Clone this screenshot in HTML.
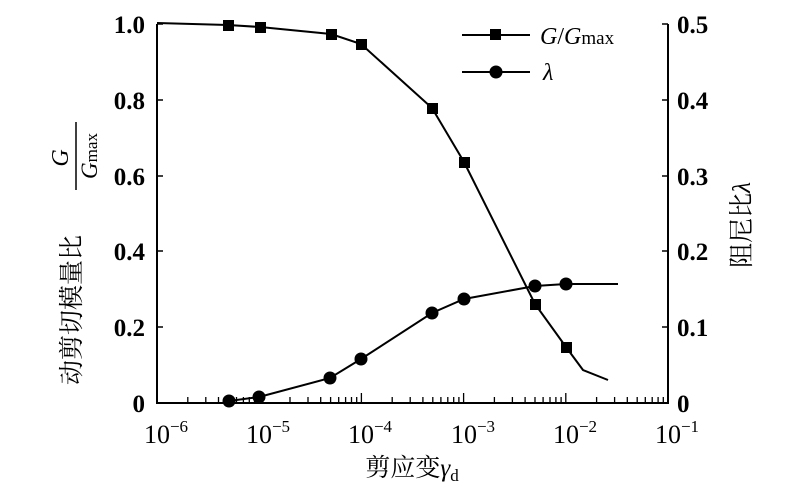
<!DOCTYPE html>
<html><head><meta charset="utf-8"><style>
body{margin:0;background:#fff;}
svg text{font-family:"Liberation Serif","Noto Serif CJK SC",serif;fill:#000;}
</style></head><body>
<svg width="807" height="491" viewBox="0 0 807 491" xmlns="http://www.w3.org/2000/svg">
<defs>
<path id="dec" d="M30.8,403v-6M48.8,403v-6M61.5,403v-6M71.4,403v-6M79.5,403v-6M86.4,403v-6M92.3,403v-6M97.5,403v-6M102.2,403v-10" stroke="#000" stroke-width="1.3" fill="none"/>
</defs>
<g stroke="#000" stroke-width="2" fill="none">
<path d="M157,24 V403 H668 V24"/>
</g>
<g stroke="#000" stroke-width="1.5">
<line x1="157" y1="24" x2="163" y2="24"/><line x1="157" y1="100" x2="163" y2="100"/><line x1="157" y1="176" x2="163" y2="176"/><line x1="157" y1="251" x2="163" y2="251"/><line x1="157" y1="327" x2="163" y2="327"/>
<line x1="662" y1="24" x2="668" y2="24"/><line x1="662" y1="100" x2="668" y2="100"/><line x1="662" y1="176" x2="668" y2="176"/><line x1="662" y1="251" x2="668" y2="251"/><line x1="662" y1="327" x2="668" y2="327"/>
</g>
<use href="#dec" x="157"/><use href="#dec" x="259.2"/><use href="#dec" x="361.4"/><use href="#dec" x="463.6"/><use href="#dec" x="565.8"/>
<polyline fill="none" stroke="#000" stroke-width="2" points="157,23 228,25 260,27 331,34 361,44 432,108 464,162 535,304 566,347 583,370 608,380"/>
<g fill="#000">
<rect x="223" y="20" width="11" height="11"/><rect x="255" y="22" width="11" height="11"/><rect x="326" y="29" width="11" height="11"/><rect x="356" y="39" width="11" height="11"/><rect x="427" y="103" width="11" height="11"/><rect x="459" y="157" width="11" height="11"/><rect x="530" y="299" width="11" height="11"/><rect x="561" y="342" width="11" height="11"/>
</g>
<polyline fill="none" stroke="#000" stroke-width="2" points="229,401 259,397 330,378 361,359 432,313 464,299 535,286 566,284 618,284"/>
<g fill="#000">
<circle cx="229" cy="401" r="6.5"/><circle cx="259" cy="397" r="6.5"/><circle cx="330" cy="378" r="6.5"/><circle cx="361" cy="359" r="6.5"/><circle cx="432" cy="313" r="6.5"/><circle cx="464" cy="299" r="6.5"/><circle cx="535" cy="286" r="6.5"/><circle cx="566" cy="284" r="6.5"/>
</g>
<line x1="462" y1="35" x2="530" y2="35" stroke="#000" stroke-width="2"/><rect x="490" y="29" width="11" height="11"/>
<text x="540" y="44" font-size="24" font-style="italic">G<tspan font-style="normal">/</tspan>G<tspan font-style="normal" font-size="19">max</tspan></text>
<line x1="462" y1="72" x2="530" y2="72" stroke="#000" stroke-width="2"/><circle cx="496" cy="72" r="6.5"/>
<text x="543" y="80" font-size="24" font-style="italic">λ</text>
<g font-size="25" font-weight="bold" text-anchor="end">
<text x="145" y="33">1.0</text><text x="145" y="109">0.8</text><text x="145" y="185">0.6</text><text x="145" y="260">0.4</text><text x="145" y="336">0.2</text><text x="145" y="412">0</text>
</g>
<g font-size="25" font-weight="bold">
<text x="677" y="33">0.5</text><text x="677" y="109">0.4</text><text x="677" y="185">0.3</text><text x="677" y="260">0.2</text><text x="677" y="336">0.1</text><text x="677" y="412">0</text>
</g>
<g font-size="26" text-anchor="middle">
<text x="166" y="443">10<tspan font-size="17" dy="-11">−6</tspan></text>
<text x="268" y="443">10<tspan font-size="17" dy="-11">−5</tspan></text>
<text x="370" y="443">10<tspan font-size="17" dy="-11">−4</tspan></text>
<text x="473" y="443">10<tspan font-size="17" dy="-11">−3</tspan></text>
<text x="575" y="443">10<tspan font-size="17" dy="-11">−2</tspan></text>
<text x="677" y="443">10<tspan font-size="17" dy="-11">−1</tspan></text>
</g>
<text x="412" y="476" font-size="25" text-anchor="middle">剪应变<tspan font-style="italic">γ</tspan><tspan font-size="17" dy="5">d</tspan></text>
<g transform="translate(80,240) rotate(-90)">
<text x="-70" y="0" font-size="25" text-anchor="middle">动剪切模量比</text>
<text x="82" y="-12" font-size="24" text-anchor="middle" font-style="italic">G</text>
<line x1="50" y1="-4" x2="118" y2="-4" stroke="#000" stroke-width="1.5"/>
<text x="84" y="17" font-size="23" text-anchor="middle" font-style="italic">G<tspan font-style="normal" font-size="17">max</tspan></text>
</g>
<text transform="translate(750,225) rotate(-90)" font-size="25" text-anchor="middle">阻尼比<tspan font-style="italic">λ</tspan></text>
</svg>
</body></html>
